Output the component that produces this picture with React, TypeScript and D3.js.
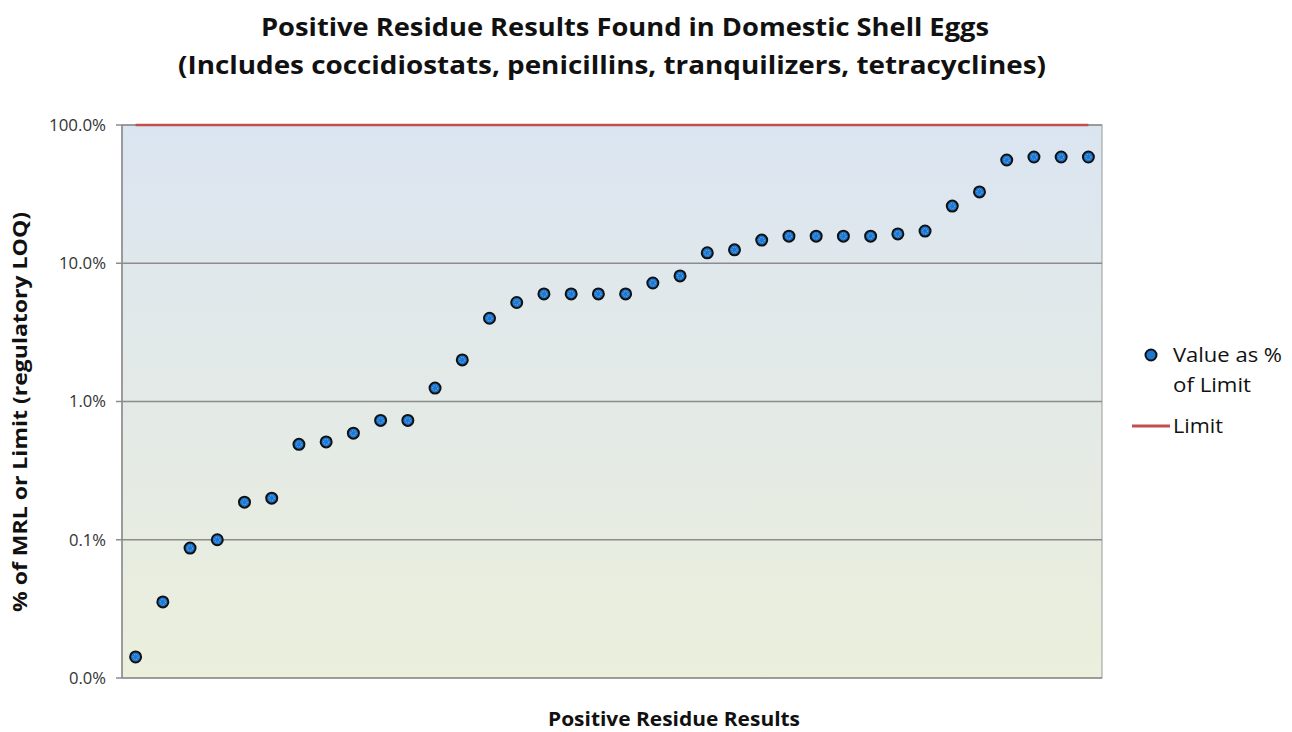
import React from 'react';
import * as d3 from 'd3';

// values as % of limit, sorted ascending
const results = [
  0.0142, 0.0355, 0.087, 0.1, 0.187, 0.2, 0.49, 0.51, 0.59, 0.73, 0.73, 1.25,
  2.0, 4.0, 5.2, 6.0, 6.0, 6.0, 6.0, 7.2, 8.1, 11.9, 12.5, 14.7, 15.7, 15.7,
  15.7, 15.7, 16.3, 17.1, 25.9, 32.8, 55.8, 58.7, 58.7, 58.7
];
const limitValue = 100;
const yTicks = [0.01, 0.1, 1, 10, 100];
const yTickLabels = ['0.0%', '0.1%', '1.0%', '10.0%', '100.0%'];

const titleLines = [
  'Positive Residue Results Found in Domestic Shell Eggs',
  '(Includes coccidiostats, penicillins, tranquilizers, tetracyclines)'
];
const xTitle = 'Positive Residue Results';
const yTitle = '% of MRL or Limit (regulatory LOQ)';
const legendLabels = ['Value as %', 'of Limit', 'Limit'];

const font = '"Open Sans", Calibri, sans-serif';

const App = () => {
  const width = 1292, height = 732;
  const margin = { top: 125, right: 190, bottom: 54, left: 122 };
  const w = width - margin.left - margin.right,
    h = height - margin.top - margin.bottom;

  const x = d3.scaleBand<number>()
    .domain(results.map((_, i) => i))
    .range([0, w]);

  const y = d3.scaleLog()
    .domain([0.01, 100])
    .range([h, 0]);

  const cx = (i: number) => (x(i) as number) + x.bandwidth() / 2;

  const grid = yTicks.map((t, i) => (
    <g key={i}>
      <line x1={-6} x2={w} y1={y(t)} y2={y(t)} stroke="#8c8c8c" strokeWidth={1.3} />
      <text x={-16} y={y(t)} dy="0.35em" textAnchor="end" fontSize={17}
        fill="#333" fontFamily={font} textLength={t >= 10 ? (t >= 100 ? 57 : 47) : 37}
        lengthAdjust="spacingAndGlyphs">{yTickLabels[i]}</text>
    </g>
  ));

  const dots = results.map((v, i) => (
    <g key={i}>
      <circle cx={cx(i)} cy={y(v)} r={5.5} fill="#1f78d0" stroke="#111" strokeWidth={2} />
      <circle cx={cx(i)} cy={y(v)} r={2.5} fill="none" stroke="#7fbfff"
        strokeWidth={1} strokeDasharray="1,1.5" />
    </g>
  ));

  return (
    <svg width={width} height={height} style={{ position: 'absolute', left: 0, top: 0 }}>
      <defs>
        <linearGradient id="bg" x1="0" y1="0" x2="0" y2="1">
          <stop offset="0%" stopColor="#dbe5f1" />
          <stop offset="100%" stopColor="#ebefdc" />
        </linearGradient>
      </defs>
      <rect width={width} height={height} fill="#fff" />
      <text x={625} y={36} textAnchor="middle" fontSize={25} fontWeight="bold"
        fontFamily={font} fill="#111" textLength={728} lengthAdjust="spacingAndGlyphs">
        {titleLines[0]}
      </text>
      <text x={612} y={74} textAnchor="middle" fontSize={25} fontWeight="bold"
        fontFamily={font} fill="#111" textLength={868} lengthAdjust="spacingAndGlyphs">
        {titleLines[1]}
      </text>
      <g transform={`translate(${margin.left},${margin.top})`}>
        <rect width={w} height={h} fill="url(#bg)" stroke="#9a9a9a" strokeWidth={1} />
        {grid}
        <line x1={0} x2={0} y1={0} y2={h} stroke="#8c8c8c" strokeWidth={1.5} />
        <line x1={cx(0)} x2={cx(results.length - 1)} y1={y(limitValue)} y2={y(limitValue)}
          stroke="#c0504d" strokeWidth={2.5} />
        {dots}
      </g>
      <text x={674} y={726} textAnchor="middle" fontSize={19} fontWeight="bold"
        fontFamily={font} fill="#111" textLength={252} lengthAdjust="spacingAndGlyphs">{xTitle}</text>
      <text transform="translate(27,412) rotate(-90)" textAnchor="middle" fontSize={19}
        fontWeight="bold" fontFamily={font} fill="#111" textLength={400}
        lengthAdjust="spacingAndGlyphs">{yTitle}</text>
      <g fontFamily={font} fontSize={20} fill="#111">
        <circle cx={1151} cy={355} r={5.5} fill="#1f78d0" stroke="#111" strokeWidth={2} />
        <text x={1173} y={362} textLength={109} lengthAdjust="spacingAndGlyphs">{legendLabels[0]}</text>
        <text x={1173} y={392} textLength={78} lengthAdjust="spacingAndGlyphs">{legendLabels[1]}</text>
        <line x1={1132} x2={1170} y1={426} y2={426} stroke="#c0504d" strokeWidth={3} />
        <text x={1173} y={433} textLength={50} lengthAdjust="spacingAndGlyphs">{legendLabels[2]}</text>
      </g>
    </svg>
  );
};

export default App;
